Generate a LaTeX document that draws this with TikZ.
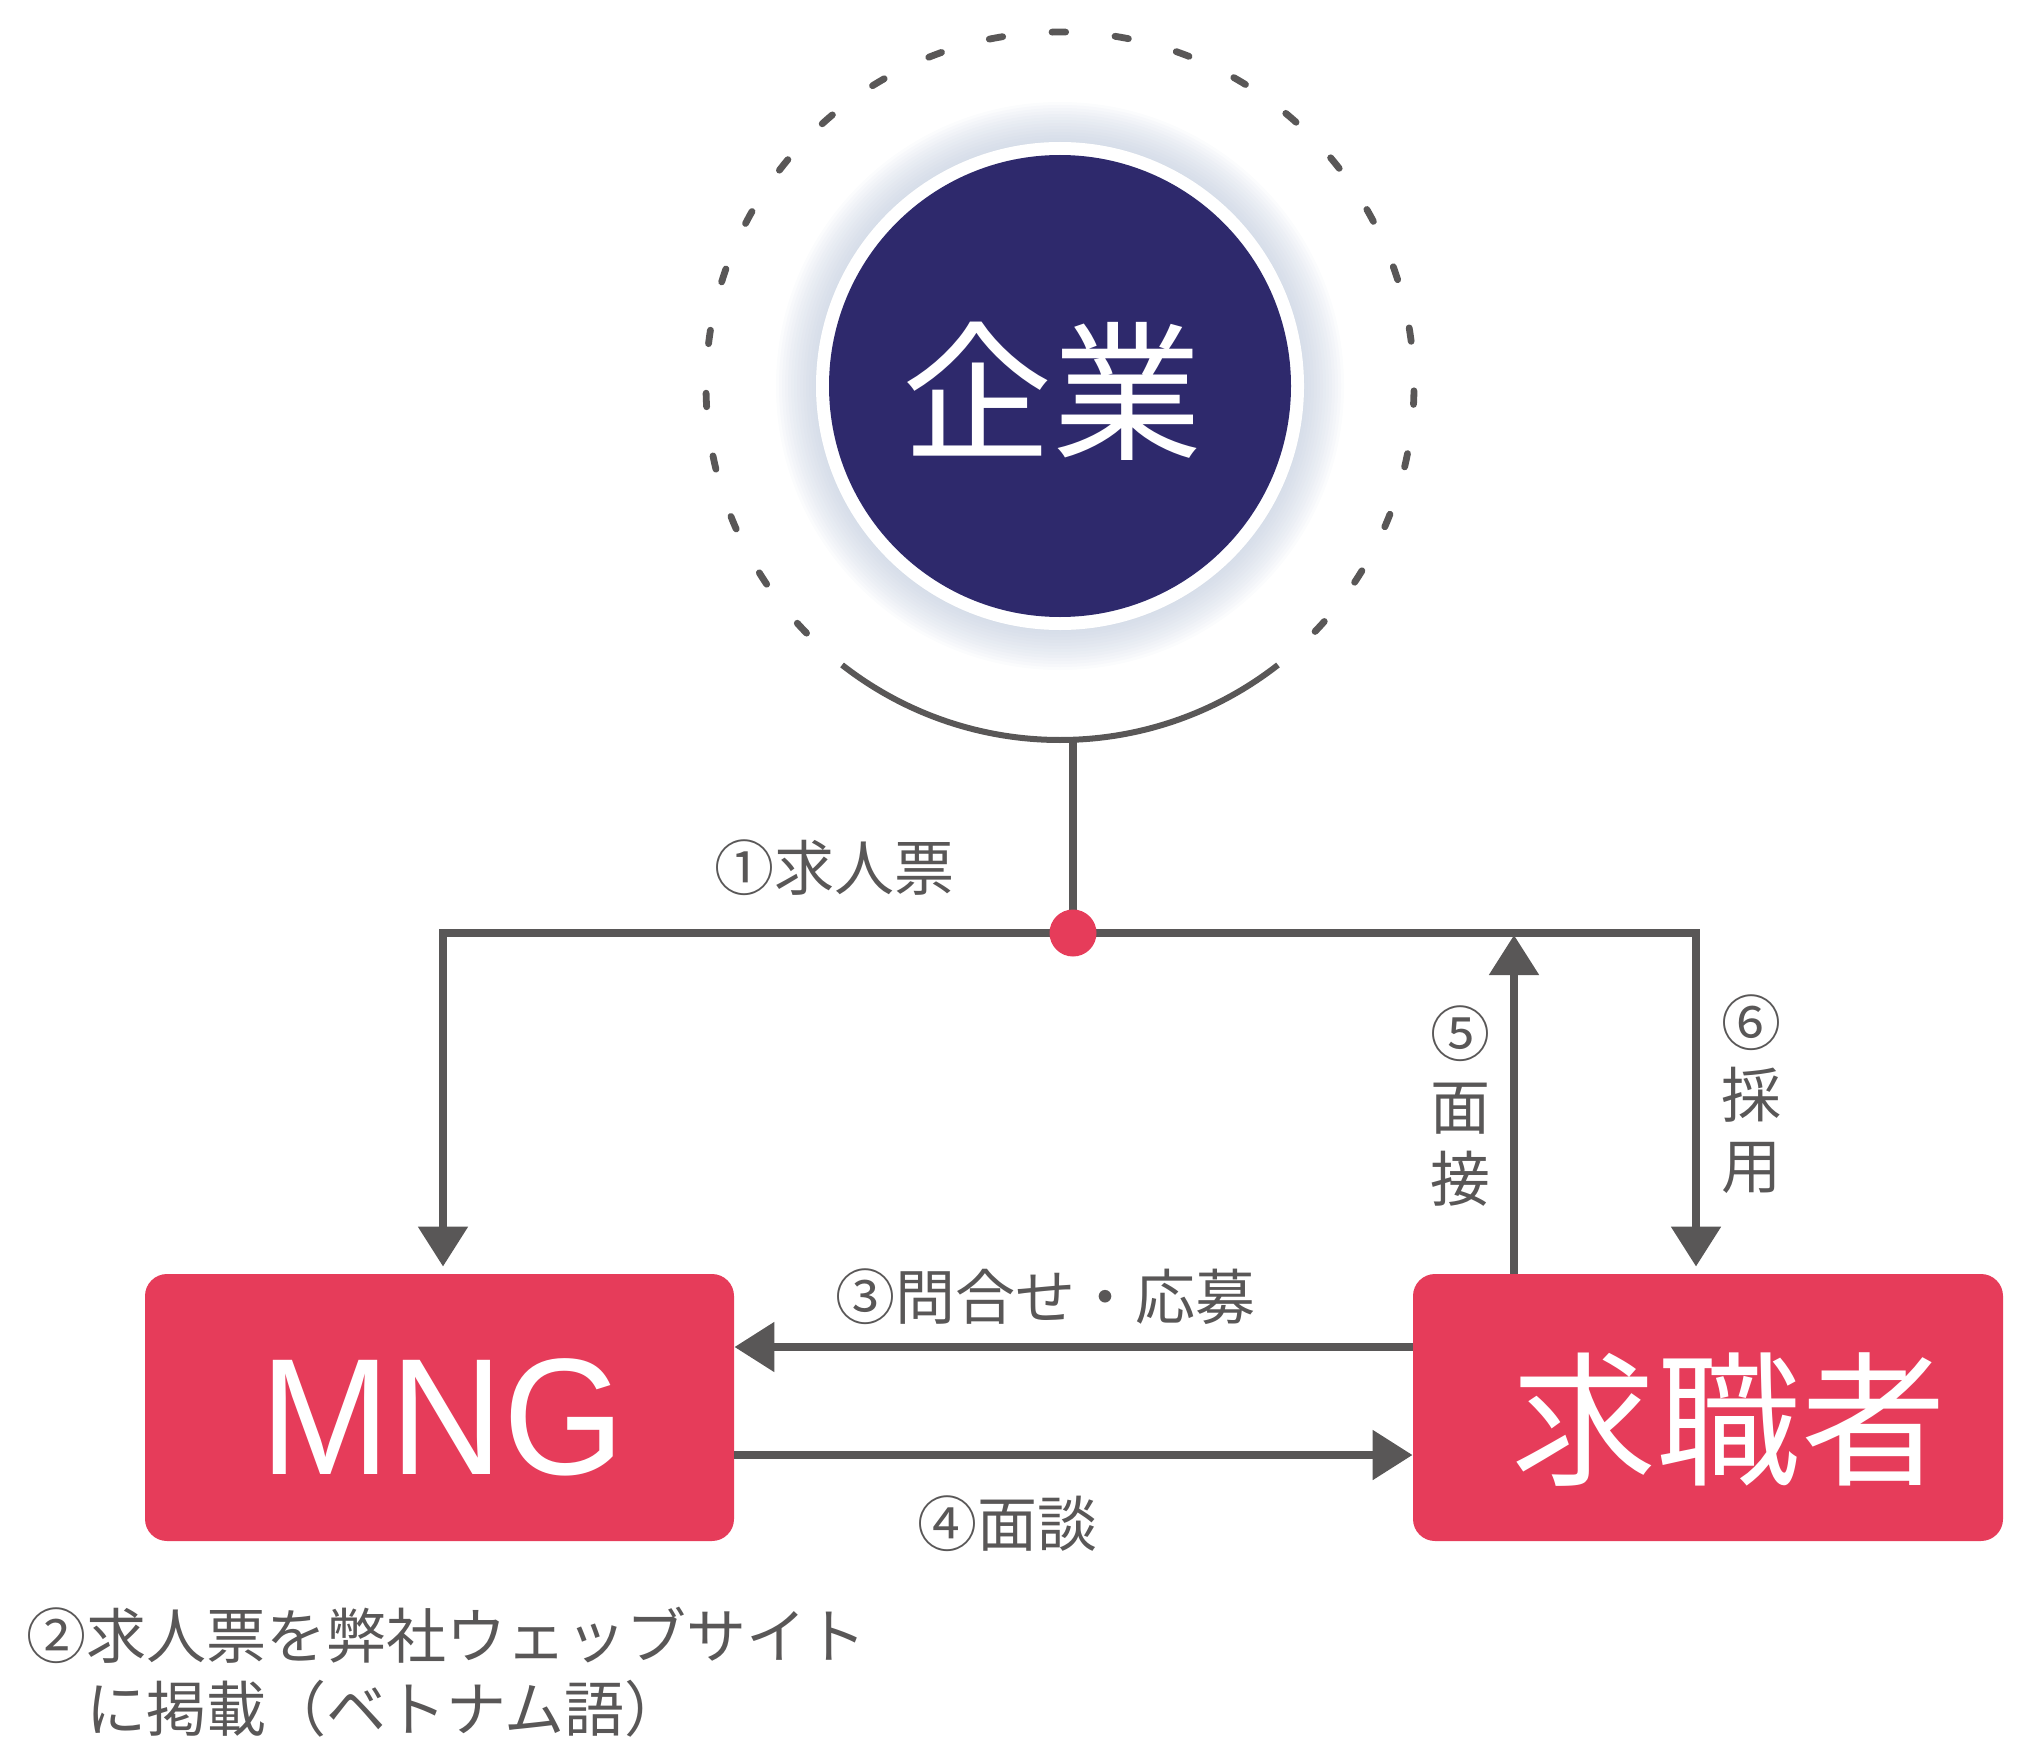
\documentclass[tikz,border=0pt]{standalone}
\usepackage{fontspec}
\setmainfont{Noto Sans CJK JP}
\newfontfamily\latinfont{Liberation Sans}
\usetikzlibrary{arrows.meta}
\definecolor{navy}{HTML}{2E296C}
\definecolor{rosered}{HTML}{E63C5A}
\definecolor{linegray}{HTML}{595757}
\definecolor{glowc}{HTML}{B8C4D8}
\tikzset{
  conn/.style={draw=linegray, line width=4.25pt},
  arr/.style={conn, -{Triangle[length=20pt,width=24pt]}},
  box/.style={fill=rosered, rounded corners=11pt, minimum height=133.5pt, inner sep=0pt},
  lab/.style={text=linegray, font=\fontsize{30pt}{36pt}\selectfont, inner sep=0pt, anchor=base},
  bigtext/.style={text=white, inner sep=0pt, anchor=base},
  ring/.style={draw=linegray, line width=3pt},
}
\begin{document}
\begin{tikzpicture}[x=0.5pt,y=-0.5pt]
\useasboundingbox (0,0) rectangle (2023,1755);
\coordinate (c) at (1060,386);
% glow
\foreach \r in {284,281,...,245} \fill[glowc, opacity=0.06] (c) circle[radius=\r];
\fill[white] (c) circle[radius=244];
\node[circle, fill=navy, minimum size=231pt, inner sep=0pt] (kigyo) at (c) {};
\node[bigtext, font=\fontsize{75pt}{80pt}\selectfont] (kigyot) at (1052,448) {企業};
% dashed ring
\foreach \i in {0,...,26} {
  \pgfmathsetmacro\sa{42.8-\i*10.23-1.1}
  \pgfmathsetmacro\ea{42.8-\i*10.23+1.1}
  \draw[ring, line width=3.4pt, line cap=round] (c) ++(\sa:354) arc[start angle=\sa, end angle=\ea, radius=354];
}
% solid arc
\draw[ring] (c) ++(52:354) arc[start angle=52, end angle=128, radius=354];
% boxes
\node[box, minimum width=294.5pt] (mng) at (439.5,1407.5) {};
\node[box, minimum width=295pt] (kyu) at (1708,1407.5) {};
\node[bigtext, font=\latinfont\fontsize{83pt}{90pt}\selectfont] (mngt) at (443,1474) {\scalebox{0.94}[1]{MNG}};
\node[bigtext, font=\fontsize{72.5pt}{80pt}\selectfont] (kyut) at (1729,1474) {求職者};
% connectors
\coordinate (stemtop) at (1073,740);
\coordinate (j) at (1073,933);
\coordinate (tl) at (443,933);
\coordinate (tr) at (1696,933);
\coordinate (up) at (1514,933);
\coordinate (y3) at (0,1347);
\coordinate (y4) at (0,1455);
\draw[conn] (stemtop) -- (j);
\draw[arr, shorten >=3.5pt] (j) -- (tl) -- (tl |- mng.north);
\draw[arr, shorten >=3.5pt] (j) -- (tr) -- (tr |- kyu.north);
\draw[arr, shorten >=1pt] (up |- kyu.north) -- (up);
\draw[arr] (kyu.west |- y3) -- (mng.east |- y3);
\draw[arr] (mng.east |- y4) -- (kyu.west |- y4);
\node[circle, fill=rosered, minimum size=23.5pt, inner sep=0pt] (dot) at (j) {};
% labels
\node[lab] (l1) at (834,890) {①求人票};
\node[lab] (l3) at (1045,1319) {③問合せ・応募};
\node[lab] (l4) at (1007,1546) {④面談};
\node[lab] (l5a) at (1460,1056) {⑤};
\node[lab] (l5b) at (1460,1129) {面};
\node[lab] (l5c) at (1460,1201) {接};
\node[lab] (l6a) at (1751,1045) {⑥};
\node[lab] (l6b) at (1751,1117) {採};
\node[lab] (l6c) at (1751,1188) {用};
\node[lab, anchor=base west] (l2a) at (26,1658) {②求人票を弊社ウェッブサイト};
\node[lab, anchor=base west] (l2b) at (26,1731) {　に掲載（ベトナム語）};
\end{tikzpicture}
\end{document}
